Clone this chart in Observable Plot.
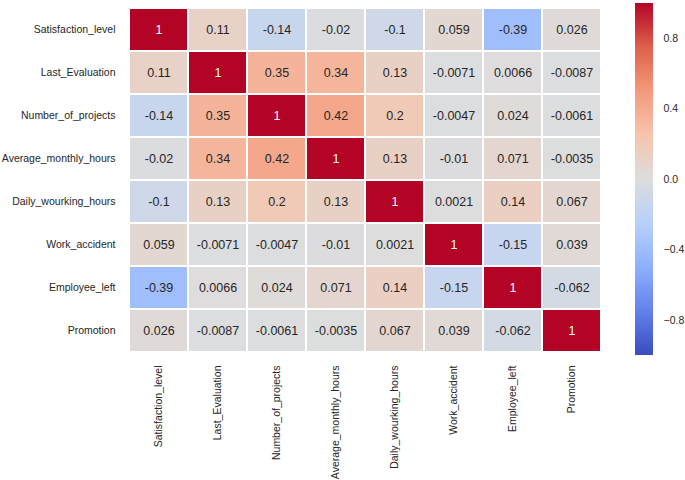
<!DOCTYPE html>
<html>
<head>
<meta charset="utf-8">
<script src="https://cdn.jsdelivr.net/npm/d3@7"></script>
<script src="https://cdn.jsdelivr.net/npm/@observablehq/plot@0.6"></script>
<style>
  html, body { margin: 0; padding: 0; background: #fff; }
  #wrap { position: relative; width: 685px; height: 480px; font-family: "Liberation Sans", Arial, sans-serif; }
  #wrap > svg, #wrap > figure { position: absolute; top: 0; margin: 0; }
</style>
</head>
<body>
<div id="wrap"></div>
<script>
const labels = ["Satisfaction_level", "Last_Evaluation", "Number_of_projects", "Average_monthly_hours",
  "Daily_wourking_hours", "Work_accident", "Employee_left", "Promotion"];

const satisfaction_level   = [1, 0.11, -0.14, -0.02, -0.1, 0.059, -0.39, 0.026];
const last_evaluation      = [0.11, 1, 0.35, 0.34, 0.13, -0.0071, 0.0066, -0.0087];
const number_of_projects   = [-0.14, 0.35, 1, 0.42, 0.2, -0.0047, 0.024, -0.0061];
const average_monthly_hours= [-0.02, 0.34, 0.42, 1, 0.13, -0.01, 0.071, -0.0035];
const daily_wourking_hours = [-0.1, 0.13, 0.2, 0.13, 1, 0.0021, 0.14, 0.067];
const work_accident        = [0.059, -0.0071, -0.0047, -0.01, 0.0021, 1, -0.15, 0.039];
const employee_left        = [-0.39, 0.0066, 0.024, 0.071, 0.14, -0.15, 1, -0.062];
const promotion            = [0.026, -0.0087, -0.0061, -0.0035, 0.067, 0.039, -0.062, 1];

const colorbarTicks = [-0.8, -0.4, 0, 0.4, 0.8];

const rows = [satisfaction_level, last_evaluation, number_of_projects, average_monthly_hours,
  daily_wourking_hours, work_accident, employee_left, promotion];

const cells = [];
rows.forEach((r, i) => r.forEach((v, j) => cells.push({row: labels[i], col: labels[j], value: v})));

// seaborn / matplotlib "coolwarm"
const coolwarm = d3.piecewise(d3.interpolateRgb, [
  "rgb(59,76,192)", "rgb(98,130,234)", "rgb(141,176,254)", "rgb(184,208,249)",
  "rgb(221,221,221)", "rgb(245,196,173)", "rgb(244,154,123)", "rgb(222,96,77)", "rgb(180,4,38)"
]);
const colorOpts = {type: "linear", domain: [-1, 1], interpolate: () => coolwarm};

function lum(v) {
  const c = d3.rgb(coolwarm((v + 1) / 2));
  const f = x => { x /= 255; return x <= 0.03928 ? x / 12.92 : Math.pow((x + 0.055) / 1.055, 2.4); };
  return 0.2126 * f(c.r) + 0.7152 * f(c.g) + 0.0722 * f(c.b);
}

const font = "'Liberation Sans', Arial, sans-serif";

const main = Plot.plot({
  width: 620,
  height: 480,
  marginLeft: 125,
  marginRight: 16,
  marginTop: 4,
  marginBottom: 125,
  style: {fontFamily: font, fontSize: "10.5px", color: "#262626", background: "transparent"},
  x: {domain: labels, padding: 0, label: null, tickSize: 0, tickPadding: 10, tickRotate: -90},
  y: {domain: labels, padding: 0, label: null, tickSize: 0, tickPadding: 10},
  color: colorOpts,
  marks: [
    Plot.cell(cells, {x: "col", y: "row", fill: "value", inset: 1}),
    Plot.text(cells, {x: "col", y: "row", text: d => String(d.value), fontSize: 12.5, fontFamily: font,
      fill: d => lum(d.value) < 0.408 ? "#ffffff" : "#262626"})
  ]
});

const cbValues = d3.range(-1, 1, 0.005);
const bar = Plot.plot({
  width: 65,
  height: 480,
  marginLeft: 15,
  marginRight: 32,
  marginTop: 3,
  marginBottom: 125,
  style: {fontFamily: font, fontSize: "10.5px", color: "#262626", background: "transparent"},
  x: {domain: [0, 1], axis: null},
  y: {domain: [-1, 1], axis: "right", ticks: colorbarTicks, tickFormat: d3.format(".1f"), tickSize: 0, tickPadding: 10, label: null},
  color: colorOpts,
  marks: [
    Plot.rect(cbValues, {x1: 0, x2: 1, y1: d => d, y2: d => Math.min(1, d + 0.006), fill: d => d + 0.0025, shapeRendering: "crispEdges"})
  ]
});

const wrap = document.getElementById("wrap");
main.style.left = "0px";
bar.style.left = "620px";
wrap.appendChild(main);
wrap.appendChild(bar);
</script>
</body>
</html>
